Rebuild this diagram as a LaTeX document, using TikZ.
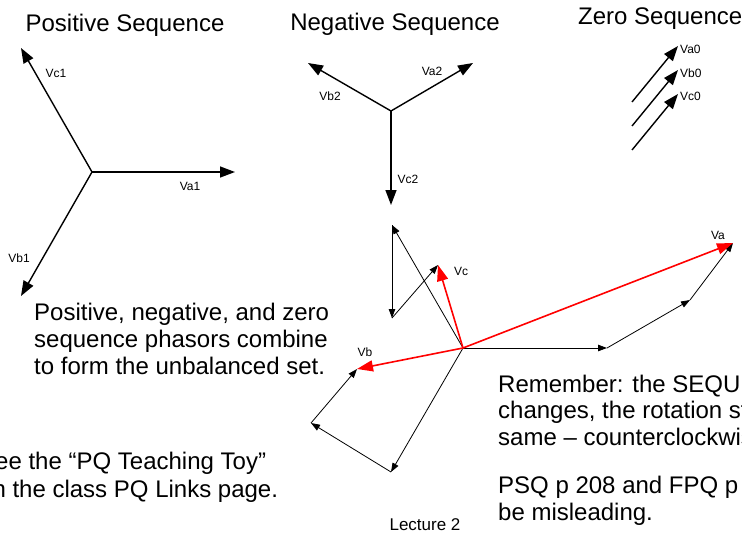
\documentclass[tikz,border=0pt]{standalone}
\usepackage{fontspec}
\setmainfont{Liberation Sans}
\usetikzlibrary{arrows.meta}
\begin{document}
\begin{tikzpicture}[x=1pt,y=-1pt,
  seqarrow/.style={line width=1.4pt,-{Triangle[length=15pt,width=11pt]}},
  thinarrow/.style={line width=0.8pt,-{Triangle[length=9pt,width=6.5pt]}},
  redarrow/.style={red,line width=1.6pt,-{Triangle[length=16pt,width=11pt]}},
  bigtext/.style={font=\fontsize{24}{27}\selectfont,inner sep=0pt},
  lbl/.style={font=\fontsize{12}{13}\selectfont,inner sep=0pt,anchor=base}]
\clip (0,0) rectangle (742,533);
\fill[white] (0,0) rectangle (742,533);

% titles
\node[bigtext,anchor=base] (tpos) at (125,31) {Positive Sequence};
\node[bigtext,anchor=base] (tneg) at (395,30) {Negative Sequence};
\node[bigtext,anchor=base west] (tzero) at (578,24) {Zero Sequence};

% positive sequence
\coordinate (p0) at (92,172);
\coordinate (pa) at (235,172);
\coordinate (pb) at (21,296);
\coordinate (pc) at (21,48);
\draw[seqarrow] (p0) -- (pa);
\draw[seqarrow] (p0) -- (pb);
\draw[seqarrow] (p0) -- (pc);
\node[lbl] (lva1) at (190,190) {Va1};
\node[lbl] (lvb1) at (19,262) {Vb1};
\node[lbl] (lvc1) at (56,77) {Vc1};

% negative sequence
\coordinate (n0) at (391,111);
\coordinate (na) at (473,63);
\coordinate (nb) at (308,63);
\coordinate (nc) at (391,205);
\draw[seqarrow] (n0) -- (na);
\draw[seqarrow] (n0) -- (nb);
\draw[seqarrow] (n0) -- (nc);
\node[lbl] (lva2) at (432,75) {Va2};
\node[lbl] (lvb2) at (330,100) {Vb2};
\node[lbl] (lvc2) at (408,183) {Vc2};

% zero sequence
\coordinate (za0) at (632,102);
\coordinate (za) at (678,46);
\coordinate (zb0) at (632,126);
\coordinate (zb) at (678,70);
\coordinate (zc0) at (632,150);
\coordinate (zc) at (678,94);
\draw[seqarrow] (za0) -- (za);
\draw[seqarrow] (zb0) -- (zb);
\draw[seqarrow] (zc0) -- (zc);
\node[lbl,anchor=base west] (lva0) at (680,53) {Va0};
\node[lbl,anchor=base west] (lvb0) at (680,77) {Vb0};
\node[lbl,anchor=base west] (lvc0) at (680,100) {Vc0};

% unbalanced set
\coordinate (o) at (463,348);
\coordinate (a1) at (607,348);
\coordinate (a2) at (690,300);
\coordinate (a3) at (733,243);
\coordinate (b1) at (391,472);
\coordinate (b2) at (311,423);
\coordinate (b3) at (357,369);
\coordinate (c1) at (392,225);
\coordinate (c2) at (392,318);
\coordinate (c3) at (438,265);
\draw[thinarrow] (o) -- (a1);
\draw[thinarrow] (a1) -- (a2);
\draw[thinarrow] (a2) -- (a3);
\draw[thinarrow] (o) -- (b1);
\draw[thinarrow] (b1) -- (b2);
\draw[thinarrow] (b2) -- (b3);
\draw[thinarrow] (o) -- (c1);
\draw[thinarrow] (c1) -- (c2);
\draw[thinarrow] (c2) -- (c3);
\draw[redarrow] (o) -- (a3);
\draw[redarrow] (o) -- (b3);
\draw[redarrow] (o) -- (c3);
\node[lbl] (lva) at (718,239) {Va};
\node[lbl] (lvb) at (365,356) {Vb};
\node[lbl] (lvc) at (461,275) {Vc};

% texts
\node[bigtext,anchor=base west] (t1) at (34,320) {Positive, negative, and zero};
\node[bigtext,anchor=base west] (t2) at (34,347) {sequence phasors combine};
\node[bigtext,anchor=base west] (t3) at (34,374) {to form the unbalanced set.};

\node[bigtext,anchor=base west] (s1) at (-21,469) {See the “PQ Teaching Toy”};
\node[bigtext,anchor=base west] (s2) at (-21,497) {on the class PQ Links page.};

\node[bigtext,anchor=base west] (r1) at (498,392) {Remember: the SEQUENCE};
\node[bigtext,anchor=base west] (r2) at (498,418) {changes, the rotation stays};
\node[bigtext,anchor=base west] (r3) at (498,445) {same – counterclockwise.};
\node[bigtext,anchor=base west] (q1) at (498,493) {PSQ p 208 and FPQ p};
\node[bigtext,anchor=base west] (q2) at (498,520) {be misleading.};

\node[font=\fontsize{17}{20}\selectfont,inner sep=0pt,anchor=base] (lec) at (425,530) {Lecture 2};
\end{tikzpicture}
\end{document}
